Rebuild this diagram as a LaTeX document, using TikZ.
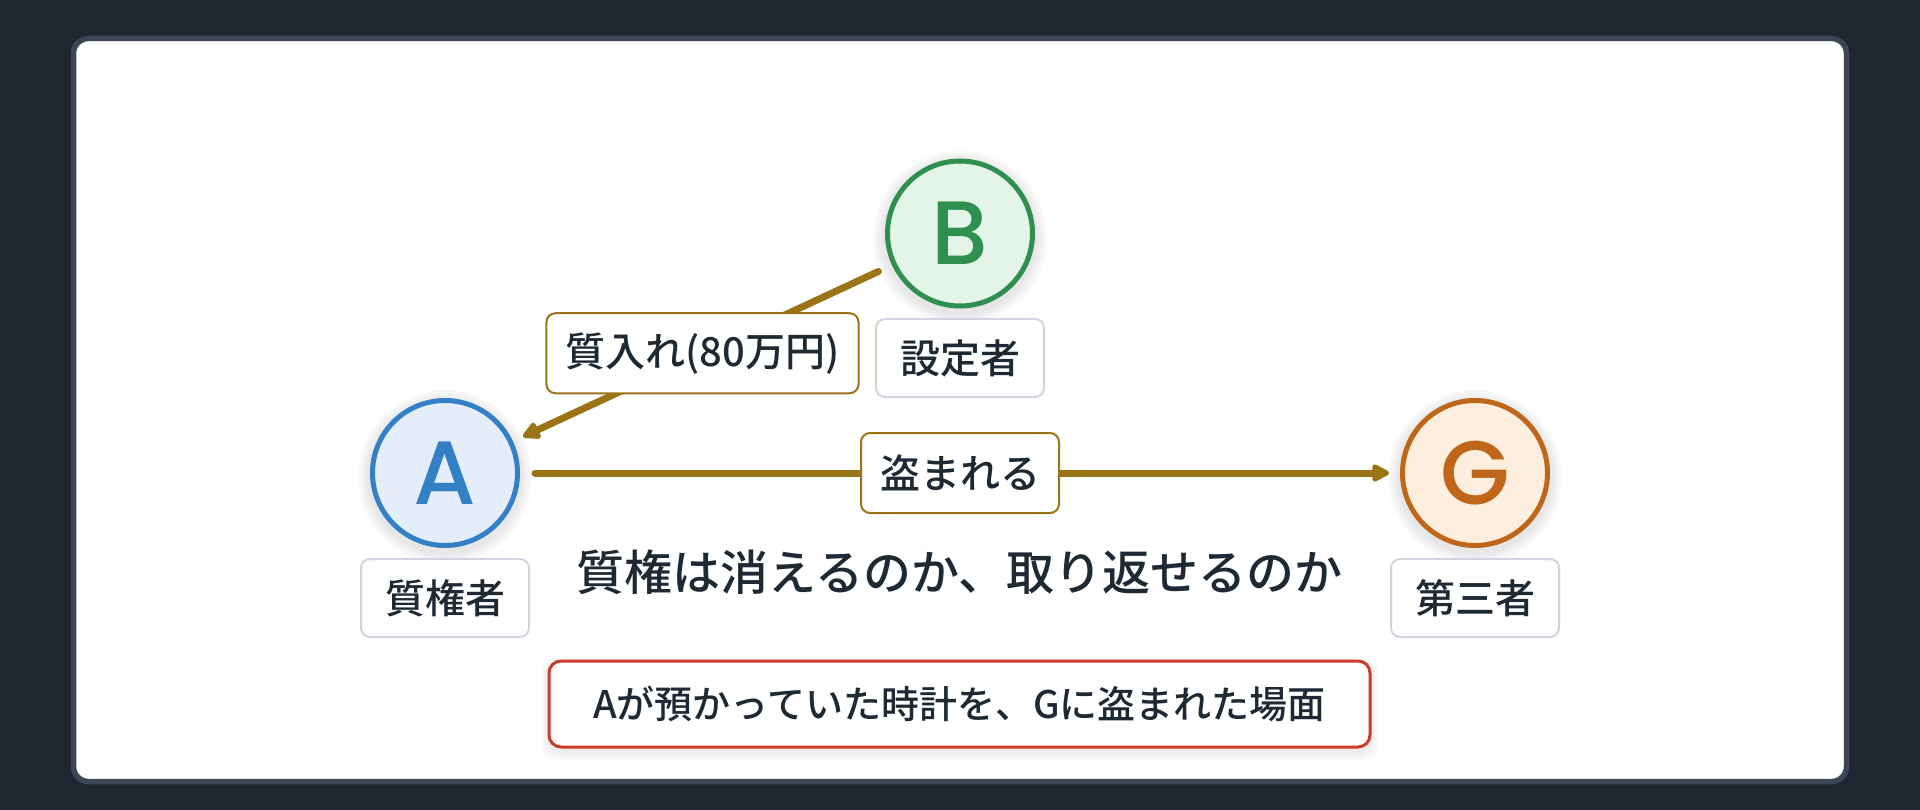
\documentclass[tikz,border=0pt]{standalone}
\usepackage{fontspec}
\setmainfont{Noto Sans CJK JP}
\IfFontExistsTF{Noto Sans CJK JP Medium}
  {\newfontfamily\medfont{Noto Sans CJK JP Medium}}
  {\newfontfamily\medfont{Noto Sans CJK JP}[FakeBold=1.5]}
\IfFontExistsTF{Poppins Medium}
  {\newfontfamily\letterfont{Poppins Medium}}
  {\newfontfamily\letterfont{Poppins}[FakeBold=1.5]}
\usetikzlibrary{arrows.meta,calc}
\definecolor{bgdark}{HTML}{1F2630}
\definecolor{cardedge}{HTML}{3C4656}
\definecolor{ablue}{HTML}{3380C7}
\definecolor{afill}{HTML}{E3EEFA}
\definecolor{bgreen}{HTML}{2E8F4F}
\definecolor{bfill}{HTML}{E3F5E8}
\definecolor{gorange}{HTML}{C0661A}
\definecolor{gfill}{HTML}{FDEEDD}
\definecolor{gold}{HTML}{9B7417}
\definecolor{rolegray}{HTML}{CFD6E0}
\definecolor{ink}{HTML}{1F2933}
\definecolor{alertred}{HTML}{CC3B2B}
\tikzset{
  person/.style={circle, line width=5pt, minimum size=145pt, inner sep=0pt, outer sep=2.5pt,
    font=\fontsize{90}{90}\selectfont\letterfont},
  softshadow/.style={fill=black, opacity=0.025},
  rolebox/.style={rectangle, rounded corners=9pt, draw=rolegray, line width=2pt, fill=white,
    minimum width=168pt, minimum height=78pt, inner sep=0pt, text=ink,
    font=\fontsize{40}{48}\selectfont\medfont},
  edgelabel/.style={rectangle, rounded corners=9pt, draw=gold, line width=2pt, fill=white,
    minimum height=80pt, inner xsep=19pt, inner ysep=0pt, text=ink,
    font=\fontsize{40}{48}\selectfont\medfont},
  conn/.style={draw=gold, line width=7pt, line cap=round,
    -{Triangle[length=20pt,width=19pt,round]}},
}
\begin{document}
\begin{tikzpicture}[x=1pt,y=-1pt]
  \useasboundingbox (0,0) rectangle (1920,810);
  \fill[bgdark] (0,0) rectangle (1920,810);
  \draw[cardedge, line width=5.5pt, fill=white, rounded corners=15pt] (73.5,38.5) rectangle (1846.5,781.5);

  % faint shadows behind the circles
  \foreach \cx/\cy in {445/473, 960/233.5, 1475/473}{
    \foreach \r in {78,81,84,87}{
      \fill[softshadow] (\cx,\cy+4) circle[radius=\r];
    }
  }
  \foreach \r in {2,5,8}{
    \fill[softshadow, rounded corners=14pt] (549-\r,661-\r+5) rectangle (1370+\r,747+\r+5);
  }

  \node[person, draw=ablue, fill=afill, text=ablue] (A) at (445,473) {A};
  \node[person, draw=bgreen, fill=bfill, text=bgreen] (B) at (960,233.5) {B};
  \node[person, draw=gorange, fill=gfill, text=gorange] (G) at (1475,473) {G};

  \node[rolebox] (Arole) at (445,598) {質権者};
  \node[rolebox] (Brole) at (960,358) {設定者};
  \node[rolebox] (Grole) at (1475,598) {第三者};

  \draw[conn, shorten <=15pt, shorten >=11pt] (B) -- (A);
  \draw[conn, shorten <=15pt, shorten >=11pt] (A) -- (G);

  \node[edgelabel] (pledge) at ($(A)!0.5!(B)$) {質入れ(80万円)};
  \node[edgelabel] (stolen) at ($(A)!0.5!(G)$) {盗まれる};

  \node[text=ink, font=\fontsize{48}{56}\selectfont\medfont] (title) at (959.5,572) {質権は消えるのか、取り返せるのか};

  \node[rectangle, rounded corners=12pt, draw=alertred, line width=3pt, fill=white,
    minimum width=821pt, minimum height=86pt, inner sep=0pt, text=ink,
    font=\fontsize{38}{46}\selectfont\medfont] (scene) at (959.5,704) {Aが預かっていた時計を、Gに盗まれた場面};
\end{tikzpicture}
\end{document}
